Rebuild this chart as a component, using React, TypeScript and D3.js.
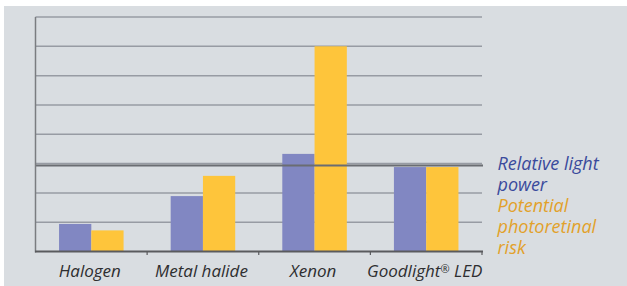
import React from 'react';
import * as d3 from 'd3';

const categories = ['Halogen', 'Metal halide', 'Xenon', 'Goodlight® LED'];
const lightPower = [0.94, 1.89, 3.33, 2.88];
const photoretinalRisk = [0.72, 2.58, 7.0, 2.88];
const referenceLevel = [2.93];
const yTicks = [0, 1, 2, 3, 4, 5, 6, 7, 8];
const seriesNames = ['Relative light power', 'Potential photoretinal risk'];
const legendLines = [
  { text: 'Relative light', series: 0 },
  { text: 'power', series: 0 },
  { text: 'Potential', series: 1 },
  { text: 'photoretinal', series: 1 },
  { text: 'risk', series: 1 },
];

const width = 627;
const height = 286;
const font = '"Open Sans", "Noto Sans", sans-serif';
const barColors = ['#8187c2', '#fec53b'];
const textColors = ['#3a4a9c', '#e2a12a'];

const App = () => {
  const left = 35.5, right = 482, top = 17, bottom = 251.5;

  const yScale = d3.scaleLinear().domain([0, 8]).range([bottom, top]);
  const xScale = d3.scaleBand().domain(categories).range([left, right]).padding(0);
  const xInner = d3.scaleBand().domain(seriesNames).range([0, xScale.bandwidth()])
    .paddingInner(0).paddingOuter(0.73);

  const values = [lightPower, photoretinalRisk];

  return (
    <svg width={width} height={height}
      style={{ position: 'absolute', left: 0, top: 0, display: 'block', background: '#fff' }}>
      <rect x={4} y={6} width={width - 4} height={height - 6} fill='#d9dde1' />

      {/* gridlines */}
      {yTicks.slice(1).map(t => (
        <line key={t} x1={left} x2={right} y1={yScale(t)} y2={yScale(t)}
          stroke='#979ba3' strokeWidth={1.5} />
      ))}

      {/* bars */}
      {categories.map((c, i) => (
        <g key={c} transform={`translate(${xScale(c)},0)`}>
          {seriesNames.map((s, j) => (
            <rect key={s} x={xInner(s)} width={xInner.bandwidth()}
              y={yScale(values[j][i])} height={bottom - yScale(values[j][i])}
              fill={barColors[j]} />
          ))}
        </g>
      ))}

      {/* reference line */}
      {referenceLevel.map(r => (
        <line key={r} x1={left} x2={right + 1} y1={yScale(r)} y2={yScale(r)}
          stroke='#6a6d72' strokeWidth={2} />
      ))}

      {/* axes */}
      <line x1={left} x2={left} y1={top} y2={bottom + 1} stroke='#7a7c80' strokeWidth={1.5} />
      <line x1={left - 0.5} x2={right + 1} y1={bottom} y2={bottom} stroke='#5a5b5e' strokeWidth={2} />
      {categories.map(c => (
        <line key={c} x1={xScale(c)! + xScale.bandwidth()} x2={xScale(c)! + xScale.bandwidth()}
          y1={bottom} y2={bottom + 3.5} stroke='#5a5b5e' strokeWidth={1.2} />
      ))}

      {/* category labels */}
      {categories.map(c => (
        <text key={c} x={xScale(c)! + xScale.bandwidth() / 2 - 1.5} y={276.5} textAnchor='middle'
          fontFamily={font} fontStyle='italic' fontSize={17} fill='#2e2e30'>
          {c.includes('®') ? (
            <>
              {c.split('®')[0]}
              <tspan fontSize={11} dy={-4}>®</tspan>
              <tspan dy={4}>{c.split('®')[1]}</tspan>
            </>
          ) : c}
        </text>
      ))}

      {/* legend: one text block, lines as tspans */}
      <text x={497.5} y={169.5} fontFamily={font} fontStyle='italic' fontSize={18}>
        {legendLines.map((l, i) => (
          <tspan key={i} x={497.5} dy={i === 0 ? 0 : 21} fill={textColors[l.series]}>{l.text}</tspan>
        ))}
      </text>
    </svg>
  );
};

export default App;
